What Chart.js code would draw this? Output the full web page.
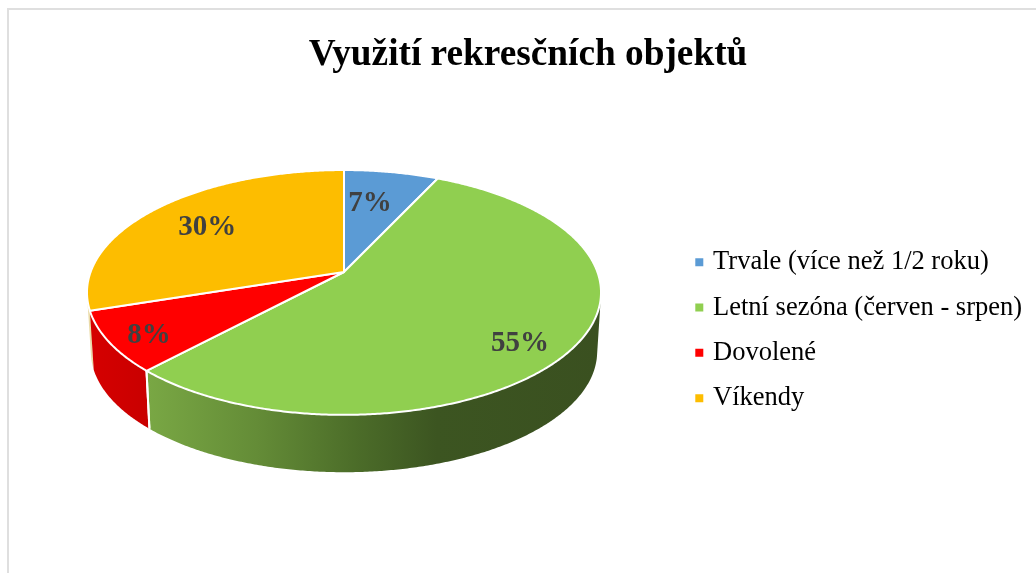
<!DOCTYPE html>
<html lang="cs">
<head>
<meta charset="utf-8">
<style>
html,body{margin:0;padding:0;background:#fff;overflow:hidden;width:1036px;height:573px}
#frame{position:absolute;left:7px;top:8px;width:1200px;height:800px;border:2px solid #dfdfdf}
#wrap{position:absolute;left:0;top:0;width:1036px;height:573px}
</style>
</head>
<body>
<div id="frame"></div>
<div id="wrap"><canvas id="c" width="1036" height="573"></canvas></div>
<script src="https://cdn.jsdelivr.net/npm/chart.js@4/dist/chart.umd.min.js"></script>
<script>
const chartTitle = 'Využití rekresčních objektů';
const categories = ['Trvale (více než 1/2 roku)', 'Letní sezóna (červen - srpen)', 'Dovolené', 'Víkendy'];
const shares = [7, 55, 8, 30];
const sliceColors = ['#5B9BD5', '#90CF50', '#FF0000', '#FDBD00'];

// Styling of the tilted disc: perspective projection of the library's arc angles.
const disc = { cx: 344, cy: 272, rx: 253.4, ry: 119, persp: 0.167, depth: 59.5, shrink: 0.985 };
const wallLeft = 87, wallRight = 601;
const wallStops = [
  [[0, '#3f6f9c'], [1, '#2f5478']],
  [[0.12, '#79a744'], [0.33, '#648c37'], [0.52, '#4c6d29'], [0.68, '#3c5521'], [1, '#3a5020']],
  [[0, '#d60000'], [0.13, '#c80000']],
  [[0, '#eadba8'], [1, '#eadba8']]
];
const labelRadial = [0.672, 0.825, 0.852, 0.714];
const labelTurn = [-2.8, 5.7, -1.3, 0];

function project(angle, f, lower) {
  const u = Math.cos(angle) * f, v = Math.sin(angle) * f;
  const w = 1 - disc.persp * v;
  const s = lower ? disc.shrink : 1;
  return {
    x: disc.cx + s * disc.rx * u / w,
    y: disc.cy + s * disc.ry * v / w + (lower ? disc.depth : 0)
  };
}
function traceRim(ctx, a0, a1) {
  const n = Math.max(2, Math.ceil(Math.abs(a1 - a0) / 0.008));
  for (let i = 0; i <= n; i++) {
    const p = project(a0 + (a1 - a0) * i / n, 1, false);
    ctx.lineTo(p.x, p.y);
  }
}
// The wall is the union of small quads between the upper and the lower rim,
// all wound the same way so that the single fill has no seams or holes.
function traceWall(ctx, a0, a1) {
  const n = Math.max(2, Math.ceil(Math.abs(a1 - a0) / 0.008));
  for (let i = 0; i < n; i++) {
    const p = a0 + (a1 - a0) * i / n, q = a0 + (a1 - a0) * (i + 1) / n;
    let c = [project(p, 1, false), project(q, 1, false), project(q, 1, true), project(p, 1, true)];
    let area = 0;
    c.forEach((m, j) => { const o = c[(j + 1) % 4]; area += m.x * o.y - o.x * m.y; });
    if (area < 0) c = c.reverse();
    ctx.moveTo(c[0].x, c[0].y);
    ctx.lineTo(c[1].x, c[1].y);
    ctx.lineTo(c[2].x, c[2].y);
    ctx.lineTo(c[3].x, c[3].y);
    ctx.closePath();
  }
}

class TiltedArc extends Chart.ArcElement {
  static id = 'tiltedArc';
  drawWall(ctx, index) {
    const g = ctx.createLinearGradient(wallLeft, 0, wallRight, 0);
    wallStops[index].forEach(s => g.addColorStop(s[0], s[1]));
    ctx.save();
    ctx.fillStyle = g;
    ctx.beginPath();
    traceWall(ctx, this.startAngle, this.endAngle);
    ctx.fill();
    ctx.restore();
  }
  drawWallSeams(ctx) {
    ctx.save();
    ctx.strokeStyle = this.options.borderColor;
    ctx.lineWidth = this.options.borderWidth;
    [this.startAngle, this.endAngle].forEach(a => {
      if (Math.sin(a) > 0.5) {
        const t = project(a, 1, false), b = project(a, 1, true);
        ctx.beginPath();
        ctx.moveTo(t.x, t.y);
        ctx.lineTo(b.x, b.y);
        ctx.stroke();
      }
    });
    ctx.restore();
  }
  draw(ctx) {
    ctx.save();
    ctx.beginPath();
    ctx.moveTo(disc.cx, disc.cy);
    traceRim(ctx, this.startAngle, this.endAngle);
    ctx.closePath();
    ctx.fillStyle = this.options.backgroundColor;
    ctx.fill();
    ctx.strokeStyle = this.options.borderColor;
    ctx.lineWidth = this.options.borderWidth;
    ctx.lineJoin = 'round';
    ctx.stroke();
    ctx.restore();
  }
}

class TiltedPie extends Chart.PieController {
  static id = 'tiltedPie';
  static defaults = { dataElementType: 'tiltedArc' };
  draw() {
    const ctx = this.chart.ctx;
    const arcs = this.getMeta().data;
    [3, 0, 1, 2].forEach(i => arcs[i].drawWall(ctx, i));
    arcs.forEach(a => a.drawWallSeams(ctx));
    super.draw();
  }
}
Chart.register(TiltedArc, TiltedPie);

const percentLabels = {
  id: 'percentLabels',
  afterDatasetsDraw(chart) {
    const ctx = chart.ctx;
    ctx.save();
    ctx.font = 'bold 29px "Liberation Serif"';
    ctx.fillStyle = '#404040';
    ctx.textAlign = 'center';
    ctx.textBaseline = 'middle';
    chart.getDatasetMeta(0).data.forEach((arc, i) => {
      const mid = (arc.startAngle + arc.endAngle) / 2 + labelTurn[i] * Math.PI / 180;
      const p = project(mid, labelRadial[i], false);
      ctx.fillText(shares[i] + '%', p.x, p.y + 2);
    });
    ctx.restore();
  }
};

const placeLegend = {
  id: 'placeLegend',
  afterLayout(chart) {
    const l = chart.legend, w = l.right - l.left;
    l.left = 698.8 - l.options.labels.padding;
    l.right = l.left + w;
    l.top = 249 - l.options.labels.padding;
    l.bottom = l.top + 220;
  }
};

new Chart(document.getElementById('c'), {
  type: 'tiltedPie',
  data: {
    labels: categories,
    datasets: [{
      data: shares,
      backgroundColor: sliceColors,
      borderColor: '#ffffff',
      borderWidth: 2
    }]
  },
  options: {
    responsive: false,
    animation: false,
    layout: { padding: { left: 20, top: 0 } },
    plugins: {
      tooltip: { enabled: false },
      title: {
        display: true,
        text: chartTitle,
        color: '#000000',
        font: { family: '"Liberation Serif"', size: 37.3, weight: 'bold' },
        padding: { top: 33, bottom: 10 }
      },
      legend: {
        position: 'right',
        align: 'start',
        labels: {
          color: '#000000',
          font: { family: '"Liberation Serif"', size: 26.5 },
          boxWidth: 1,
          boxHeight: 1,
          padding: 18.8,
          generateLabels(chart) {
            return Chart.overrides.pie.plugins.legend.labels.generateLabels(chart).map(it => ({
              ...it, strokeStyle: it.fillStyle, lineWidth: 7
            }));
          }
        }
      }
    }
  },
  plugins: [percentLabels, placeLegend]
});
</script>
</body>
</html>
